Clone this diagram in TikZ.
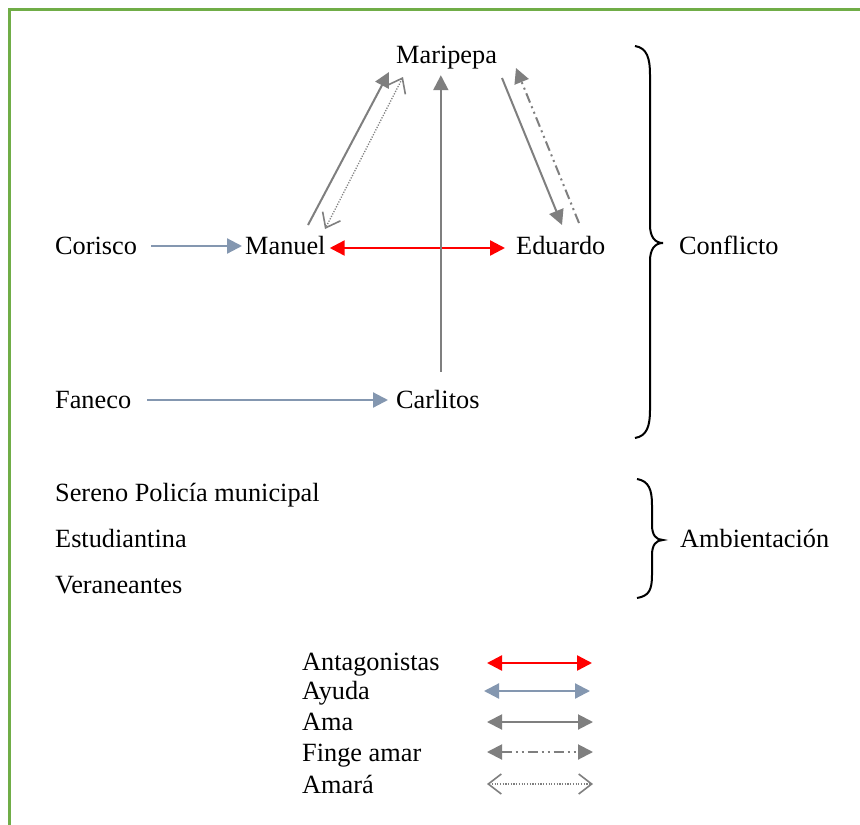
\documentclass[tikz,border=0pt]{standalone}
\usepackage{fontspec}
\setmainfont{Liberation Serif}
\usetikzlibrary{arrows.meta}
\definecolor{framegreen}{HTML}{70AD47}
\definecolor{slate}{HTML}{8497B0}
\definecolor{amagray}{HTML}{7F7F7F}
\begin{document}
\begin{tikzpicture}[x=1pt,y=-1pt,
  lbl/.style={anchor=base west, inner sep=0pt, text height=20pt, text depth=4pt, font=\fontsize{26.3}{30}\selectfont},
  antag/.style={draw=red, line width=2.4pt, {Triangle[length=15pt,width=15pt]}-{Triangle[length=15pt,width=15pt]}},
  ayuda/.style={draw=slate, line width=2.2pt, -{Triangle[length=15pt,width=15pt]}},
  ama/.style={draw=amagray, line width=2pt, -{Triangle[length=15pt,width=15pt]}},
  finge/.style={draw=amagray, line width=2pt, dash pattern=on 10pt off 4pt on 2pt off 4pt on 2pt off 4pt, -{Triangle[length=15pt,width=15pt]}},
  amara/.style={draw=amagray, line width=1.3pt, dash pattern=on 1.2pt off 1.5pt, {Straight Barb[length=13pt,width=20pt,line width=1.6pt]}-{Straight Barb[length=13pt,width=20pt,line width=1.6pt]}},
  bracestyle/.style={draw=black, line width=2pt},
  framestyle/.style={draw=framegreen, line width=3pt}
]
\useasboundingbox (0,0) rectangle (860,825);
\fill[white] (0,0) rectangle (860,825);
\draw[framestyle] (9,825) -- (9,9) -- (860,9);

% nodes
\node[lbl] (mar) at (396,63) {Maripepa};
\node[lbl] (cor) at (55,254) {Corisco};
\node[lbl] (man) at (245,254) {Manuel};
\node[lbl] (edu) at (516,254) {Eduardo};
\node[lbl] (con) at (679,254) {Conflicto};
\node[lbl] (fan) at (55,408) {Faneco};
\node[lbl] (car) at (396,408) {Carlitos};
\node[lbl] (ser) at (55,501) {Sereno Policía municipal};
\node[lbl] (est) at (55,547) {Estudiantina};
\node[lbl] (ver) at (55,593) {Veraneantes};
\node[lbl] (amb) at (680,547) {Ambientación};
\node[lbl] (lant) at (302,670) {Antagonistas};
\node[lbl] (lay) at (302,699) {Ayuda};
\node[lbl] (lama) at (302,730) {Ama};
\node[lbl] (lfin) at (302,761) {Finge amar};
\node[lbl] (lamr) at (302,793) {Amará};

% connectors
\draw[ayuda, shorten <=14pt, shorten >=3pt] (cor.east) -- (man.west);
\draw[ayuda, shorten <=16pt, shorten >=8pt] (fan.east) -- (car.west);
\draw[antag, shorten <=4pt, shorten >=11pt] ([yshift=-2pt]man.east) -- ([yshift=-2pt]edu.west);
\draw[ama, shorten <=16pt, shorten >=8pt] ([xshift=3pt]car.north) -- ([xshift=3pt]car.north |- mar.south);

\coordinate (m1) at (308,225);
\coordinate (m2) at (389,72);
\coordinate (d1) at (403,77);
\coordinate (d2) at (325,229);
\coordinate (e1) at (502,78);
\coordinate (e2) at (562,225);
\coordinate (f1) at (579,223);
\coordinate (f2) at (516,68);
\draw[ama] (m1) -- (m2);
\draw[amara] (d1) -- (d2);
\draw[ama] (e1) -- (e2);
\draw[finge] (f1) -- (f2);

% braces
\draw[bracestyle] (635,46) .. controls (647,48) and (650,58) .. (650,75) -- (650,225)
  .. controls (650,237) and (655,243) .. (663,243)
  .. controls (655,243) and (650,249) .. (650,261) -- (650,410)
  .. controls (650,426) and (647,436) .. (635,438);
\draw[bracestyle] (637,479) .. controls (649,481) and (652,490) .. (652,505) -- (652,525)
  .. controls (652,535) and (656,540) .. (663,540)
  .. controls (656,540) and (652,545) .. (652,555) -- (652,575)
  .. controls (652,590) and (649,596) .. (637,598);

% legend
\coordinate (la1) at (487,663); \coordinate (la2) at (592,663);
\coordinate (lb1) at (484,691); \coordinate (lb2) at (590,691);
\coordinate (lc1) at (487,722); \coordinate (lc2) at (593,722);
\coordinate (ld1) at (487,752); \coordinate (ld2) at (593,752);
\coordinate (le1) at (487,784); \coordinate (le2) at (593,784);
\draw[antag] (la1) -- (la2);
\draw[ayuda, {Triangle[length=15pt,width=15pt]}-{Triangle[length=15pt,width=15pt]}] (lb1) -- (lb2);
\draw[ama, {Triangle[length=15pt,width=15pt]}-{Triangle[length=15pt,width=15pt]}] (lc1) -- (lc2);
\draw[finge, {Triangle[length=15pt,width=15pt]}-{Triangle[length=15pt,width=15pt]}] (ld1) -- (ld2);
\draw[amara] (le1) -- (le2);
\end{tikzpicture}
\end{document}
